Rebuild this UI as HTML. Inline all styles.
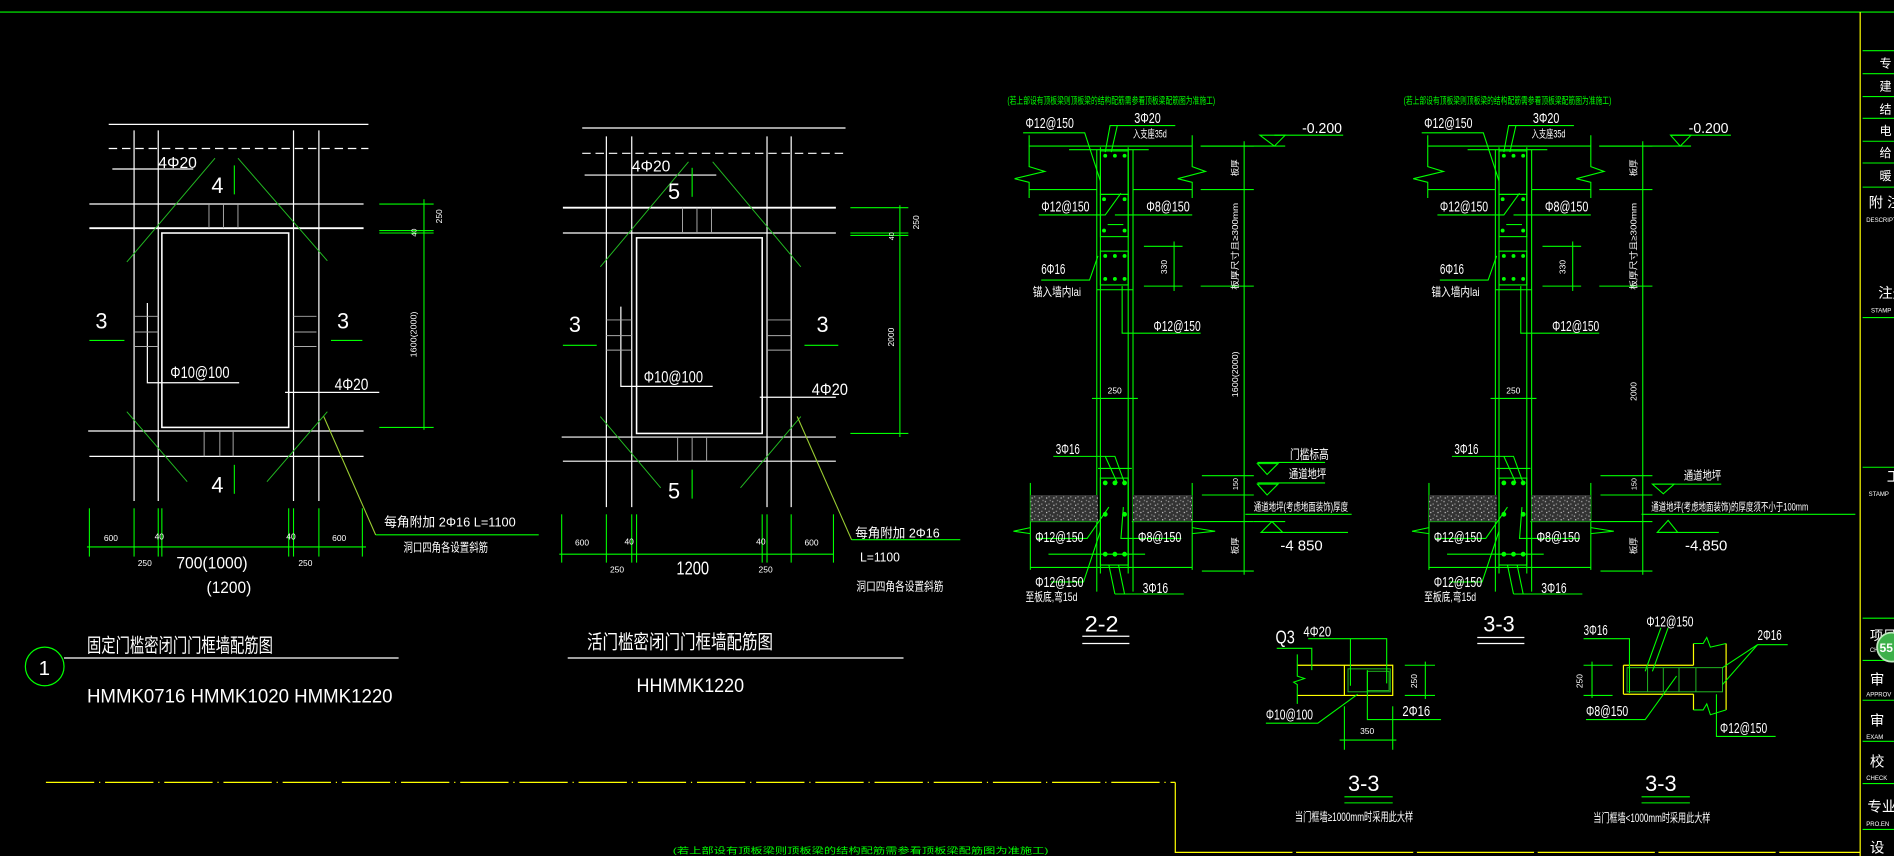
<!DOCTYPE html>
<html><head><meta charset="utf-8">
<style>
html,body{margin:0;padding:0;background:#000;width:1894px;height:856px;overflow:hidden}
svg{display:block}
text{font-family:"Liberation Sans","Noto Sans CJK SC",sans-serif;fill:#fff}
.g{stroke:#00ff00;fill:none;stroke-width:0.9}
.w{stroke:#fff;fill:none;stroke-width:1}
.y{stroke:#ffff00;fill:none;stroke-width:1}
.gr{stroke:#aaa;fill:none;stroke-width:0.8}
.dg{stroke:#22bb22;fill:none;stroke-width:0.8}
.gt{fill:#00ff00}
</style></head><body>
<svg width="1894" height="856" viewBox="0 0 1568 709" preserveAspectRatio="none" xmlns="http://www.w3.org/2000/svg" font-size="12">
<defs>
<pattern id="hat" width="6" height="6" patternUnits="userSpaceOnUse">
<rect width="6" height="6" fill="#333"/>
<rect x="1" y="1" width="1" height="1" fill="#bbb"/><rect x="4" y="3" width="1" height="1" fill="#999"/><rect x="2" y="4" width="1" height="1" fill="#ccc"/><rect x="5" y="0" width="1" height="1" fill="#888"/>
</pattern>
</defs>
<rect width="1568" height="709" fill="#000"/>
<!-- frame -->
<line class="g" x1="0" y1="10" x2="1568" y2="10"/>
<line class="y" x1="1540" y1="10" x2="1540" y2="709"/>
<g class="g">
<line x1="1542" y1="42" x2="1568" y2="42"/><line x1="1542" y1="61" x2="1568" y2="61"/><line x1="1542" y1="80" x2="1568" y2="80"/><line x1="1542" y1="98" x2="1568" y2="98"/><line x1="1542" y1="117" x2="1568" y2="117"/><line x1="1542" y1="135" x2="1568" y2="135"/><line x1="1542" y1="155" x2="1568" y2="155"/><line x1="1542" y1="263" x2="1568" y2="263"/><line x1="1542" y1="387" x2="1568" y2="387"/><line x1="1542" y1="512" x2="1568" y2="512"/><line x1="1542" y1="547" x2="1568" y2="547"/><line x1="1542" y1="580" x2="1568" y2="580"/><line x1="1542" y1="614" x2="1568" y2="614"/><line x1="1542" y1="649" x2="1568" y2="649"/><line x1="1542" y1="687" x2="1568" y2="687"/>
</g>
<g font-size="10">
<text x="1556" y="56">专</text><text x="1556" y="75">建</text><text x="1556" y="94">结</text><text x="1556" y="112">电</text><text x="1556" y="130">给</text><text x="1556" y="149">暖</text>
<text x="1547" y="172" font-size="12">附 注</text><text x="1545" y="184" font-size="5">DESCRIPT</text>
<text x="1555" y="247" font-size="12">注册</text><text x="1549" y="259" font-size="5">STAMP</text>
<text x="1562" y="399" font-size="12">工</text><text x="1547" y="411" font-size="5">STAMP</text>
<text x="1548" y="530" font-size="11">项目</text><text x="1548" y="540" font-size="5">CHE</text>
<text x="1548" y="567" font-size="12">审</text><text x="1545" y="577" font-size="5">APPROV</text>
<text x="1548" y="601" font-size="12">审</text><text x="1545" y="612" font-size="5">EXAM</text>
<text x="1548" y="635" font-size="12">校</text><text x="1545" y="646" font-size="5">CHECK</text>
<text x="1546" y="672" font-size="12">专业负</text><text x="1545" y="684" font-size="5">PRO.EN</text>
<text x="1548" y="706" font-size="12">设</text>
</g>
<circle cx="1566" cy="536" r="12" fill="#3db04a" stroke="#bfe8c0" stroke-width="1.5"/>
<text x="1556" y="540" font-size="10" font-weight="bold">55</text>

<!-- bottom yellow lines -->
<line class="y" x1="38" y1="648" x2="973" y2="648" stroke-dasharray="40,4,1,4"/>
<polyline class="y" points="973,648 973,706 1540,706"/>
<line x1="975" y1="706" x2="1540" y2="706" stroke="#000" stroke-width="1.2" stroke-dasharray="0,95,3,2"/>
<text class="gt" x="557" y="707" font-size="7" textLength="311" lengthAdjust="spacingAndGlyphs">(若上部设有顶板梁则顶板梁的结构配筋需参看顶板梁配筋图为准施工)</text>

<!-- ========== Diagram 1 ========== -->
<g>
<line class="w" x1="90" y1="103" x2="305" y2="103"/>
<line class="w" x1="90" y1="123" x2="305" y2="123" stroke-dasharray="7,4"/>
<line class="w" x1="93" y1="140" x2="160" y2="140"/>
<g class="w">
<line x1="111" y1="108" x2="111" y2="415"/><line x1="131" y1="108" x2="131" y2="415"/>
<line x1="243" y1="108" x2="243" y2="415"/><line x1="264" y1="108" x2="264" y2="415"/>
<line x1="74" y1="169" x2="301" y2="169"/><line x1="74" y1="189" x2="301" y2="189" stroke-width="1.5"/>
<line x1="73" y1="357" x2="301" y2="357"/><line x1="74" y1="378" x2="301" y2="378"/>
<rect x="134" y="193" width="105" height="161" stroke-width="1.3"/>
<polyline points="122,251 122,317 198,317"/>
<line x1="236" y1="325" x2="314" y2="325"/>
</g>
<g class="gr">
<line x1="173" y1="169" x2="173" y2="189"/><line x1="185" y1="169" x2="185" y2="189"/><line x1="197" y1="169" x2="197" y2="189"/>
<line x1="169" y1="357" x2="169" y2="378"/><line x1="182" y1="357" x2="182" y2="378"/><line x1="193" y1="357" x2="193" y2="378"/>
<line x1="111" y1="262" x2="131" y2="262"/><line x1="111" y1="275" x2="131" y2="275"/><line x1="111" y1="287" x2="131" y2="287"/>
<line x1="243" y1="262" x2="262" y2="262"/><line x1="243" y1="275" x2="262" y2="275"/><line x1="243" y1="287" x2="262" y2="287"/>
</g>
<g class="dg">
<line x1="178" y1="131" x2="105" y2="217"/><line x1="197" y1="131" x2="271" y2="216"/>
<line x1="105" y1="341" x2="155" y2="399"/><line x1="271" y1="341" x2="221" y2="399"/>
</g>
<g class="g">
<line x1="194" y1="137" x2="194" y2="161"/><line x1="194" y1="385" x2="194" y2="409"/>
<line x1="74" y1="282" x2="103" y2="282"/><line x1="274" y1="282" x2="300" y2="282"/>
<line x1="351" y1="165" x2="351" y2="356"/>
<line x1="314" y1="169" x2="359" y2="169"/><line x1="314" y1="191" x2="359" y2="191"/><line x1="314" y1="193" x2="359" y2="193"/><line x1="314" y1="354" x2="359" y2="354"/>
<line x1="72" y1="453" x2="303" y2="453"/>
<line x1="74" y1="421" x2="74" y2="461"/><line x1="111" y1="421" x2="111" y2="461"/><line x1="131" y1="421" x2="131" y2="461"/><line x1="134" y1="421" x2="134" y2="461"/><line x1="239" y1="421" x2="239" y2="461"/><line x1="243" y1="421" x2="243" y2="461"/><line x1="264" y1="421" x2="264" y2="461"/><line x1="300" y1="421" x2="300" y2="461"/>
<line x1="311" y1="443" x2="446" y2="443"/>
</g>
<polyline points="268,345 311,443" stroke="#9acd32" fill="none" stroke-width="0.9"/>
<text x="131" y="139" font-size="13" textLength="32" lengthAdjust="spacingAndGlyphs">4Φ20</text>
<text x="175" y="160" font-size="18">4</text>
<text x="175" y="408" font-size="18">4</text>
<text x="79" y="272" font-size="18">3</text>
<text x="279" y="272" font-size="18">3</text>
<text x="141" y="313" font-size="14" textLength="49" lengthAdjust="spacingAndGlyphs">Φ10@100</text>
<text x="277" y="323" font-size="14" textLength="28" lengthAdjust="spacingAndGlyphs">4Φ20</text>
<text font-size="7" transform="translate(366,185) rotate(-90)">250</text>
<text font-size="6" transform="translate(345,196) rotate(-90)">40</text>
<text font-size="7" transform="translate(345,296) rotate(-90)" textLength="38" lengthAdjust="spacingAndGlyphs">1600(2000)</text>
<text x="86" y="448" font-size="7">600</text><text x="128" y="447" font-size="7">40</text><text x="237" y="447" font-size="7">40</text><text x="275" y="448" font-size="7">600</text>
<text x="114" y="469" font-size="7">250</text><text x="247" y="469" font-size="7">250</text>
<text x="146" y="471" font-size="14" textLength="59" lengthAdjust="spacingAndGlyphs">700(1000)</text>
<text x="171" y="491" font-size="14" textLength="37" lengthAdjust="spacingAndGlyphs">(1200)</text>
<text x="318" y="436" font-size="11" textLength="109" lengthAdjust="spacingAndGlyphs">每角附加  2Φ16  L=1100</text>
<text x="334" y="457" font-size="10" textLength="70" lengthAdjust="spacingAndGlyphs">洞口四角各设置斜筋</text>
<circle cx="37" cy="552" r="16" fill="none" stroke="#00ff00" stroke-width="1"/>
<text x="32" y="559" font-size="17">1</text>
<line class="w" x1="53" y1="545" x2="330" y2="545"/>
<text x="72" y="540" font-size="16" textLength="154" lengthAdjust="spacingAndGlyphs">固定门槛密闭门门框墙配筋图</text>
<text x="72" y="582" font-size="16" textLength="253" lengthAdjust="spacingAndGlyphs">HMMK0716  HMMK1020  HMMK1220</text>
</g>

<!-- ========== Diagram 2 ========== -->
<g>
<line class="w" x1="482" y1="106" x2="700" y2="106"/>
<line class="w" x1="482" y1="127" x2="700" y2="127" stroke-dasharray="7,4"/>
<line class="w" x1="484" y1="145" x2="593" y2="145"/>
<g class="w">
<line x1="502" y1="113" x2="502" y2="420"/><line x1="523" y1="113" x2="523" y2="420"/>
<line x1="635" y1="113" x2="635" y2="420"/><line x1="655" y1="113" x2="655" y2="420"/>
<line x1="466" y1="172" x2="692" y2="172" stroke-width="1.5"/><line x1="466" y1="193" x2="692" y2="193"/>
<line x1="465" y1="362" x2="692" y2="362"/><line x1="466" y1="382" x2="692" y2="382"/>
<rect x="527" y="197" width="104" height="162" stroke-width="1.3"/>
<polyline points="514,254 514,320 590,320"/>
<line x1="629" y1="329" x2="692" y2="329"/>
</g>
<g class="gr">
<line x1="565" y1="172" x2="565" y2="193"/><line x1="577" y1="172" x2="577" y2="193"/><line x1="589" y1="172" x2="589" y2="193"/>
<line x1="561" y1="362" x2="561" y2="382"/><line x1="573" y1="362" x2="573" y2="382"/><line x1="585" y1="362" x2="585" y2="382"/>
<line x1="502" y1="265" x2="523" y2="265"/><line x1="502" y1="278" x2="523" y2="278"/><line x1="502" y1="290" x2="523" y2="290"/>
<line x1="635" y1="265" x2="655" y2="265"/><line x1="635" y1="278" x2="655" y2="278"/><line x1="635" y1="290" x2="655" y2="290"/>
</g>
<g class="dg">
<line x1="570" y1="134" x2="497" y2="221"/><line x1="590" y1="134" x2="663" y2="221"/>
<line x1="497" y1="345" x2="547" y2="404"/><line x1="663" y1="345" x2="613" y2="404"/>
</g>
<g class="g">
<line x1="573" y1="139" x2="573" y2="163"/><line x1="573" y1="389" x2="573" y2="413"/>
<line x1="466" y1="286" x2="494" y2="286"/><line x1="666" y1="286" x2="694" y2="286"/>
<line x1="745" y1="170" x2="745" y2="362"/>
<line x1="704" y1="172" x2="752" y2="172"/><line x1="704" y1="193" x2="752" y2="193"/><line x1="704" y1="195" x2="752" y2="195"/><line x1="704" y1="359" x2="752" y2="359"/>
<line x1="463" y1="459" x2="690" y2="459"/>
<line x1="465" y1="426" x2="465" y2="466"/><line x1="502" y1="426" x2="502" y2="466"/><line x1="523" y1="426" x2="523" y2="466"/><line x1="527" y1="426" x2="527" y2="466"/><line x1="631" y1="426" x2="631" y2="466"/><line x1="635" y1="426" x2="635" y2="466"/><line x1="655" y1="426" x2="655" y2="466"/><line x1="690" y1="426" x2="690" y2="466"/>
<line x1="705" y1="447" x2="795" y2="447"/>
</g>
<polyline points="660,345 705,447" stroke="#9acd32" fill="none" stroke-width="0.9"/>
<text x="523" y="142" font-size="13" textLength="32" lengthAdjust="spacingAndGlyphs">4Φ20</text>
<text x="553" y="165" font-size="18">5</text>
<text x="553" y="413" font-size="18">5</text>
<text x="471" y="275" font-size="18">3</text>
<text x="676" y="275" font-size="18">3</text>
<text x="533" y="317" font-size="14" textLength="49" lengthAdjust="spacingAndGlyphs">Φ10@100</text>
<text x="672" y="327" font-size="14" textLength="30" lengthAdjust="spacingAndGlyphs">4Φ20</text>
<text font-size="7" transform="translate(761,190) rotate(-90)">250</text>
<text font-size="6" transform="translate(740,199) rotate(-90)">40</text>
<text font-size="7" transform="translate(740,287) rotate(-90)">2000</text>
<text x="476" y="452" font-size="7">600</text><text x="517" y="451" font-size="7">40</text><text x="626" y="451" font-size="7">40</text><text x="666" y="452" font-size="7">600</text>
<text x="505" y="474" font-size="7">250</text><text x="628" y="474" font-size="7">250</text>
<text x="560" y="476" font-size="15" textLength="27" lengthAdjust="spacingAndGlyphs">1200</text>
<text x="708" y="445" font-size="11" textLength="70" lengthAdjust="spacingAndGlyphs">每角附加  2Φ16</text>
<text x="712" y="465" font-size="11" textLength="33" lengthAdjust="spacingAndGlyphs">L=1100</text>
<text x="709" y="489" font-size="10" textLength="72" lengthAdjust="spacingAndGlyphs">洞口四角各设置斜筋</text>
<line class="w" x1="470" y1="545" x2="748" y2="545"/>
<text x="486" y="537" font-size="16" textLength="154" lengthAdjust="spacingAndGlyphs">活门槛密闭门门框墙配筋图</text>
<text x="527" y="573" font-size="16" textLength="89" lengthAdjust="spacingAndGlyphs">HHMMK1220</text>
</g>

<!-- ========== Section structure (2-2), reused for 3-3 ========== -->
<g id="sec">
<g class="g">
<line x1="852" y1="121" x2="987" y2="121"/>
<line x1="852" y1="157" x2="908" y2="157"/><line x1="938" y1="157" x2="987" y2="157"/>
<polyline points="852,112 852,138 865,142 840,148 852,151 852,164"/>
<polyline points="987,112 987,138 998,142 975,148 987,151 987,164"/>
<line x1="885" y1="124" x2="951" y2="124"/>
<line x1="908" y1="124" x2="908" y2="490"/><line x1="938" y1="124" x2="938" y2="490"/>
<line x1="911" y1="122" x2="911" y2="475"/><line x1="934" y1="122" x2="934" y2="475"/>
<rect x="911" y="125" width="23" height="36"/>
<rect x="911" y="161" width="23" height="35"/>
<rect x="911" y="208" width="23" height="28"/>
<line x1="908" y1="240" x2="938" y2="240"/>
<polyline points="847,110 898,110 911,150"/>
<polyline points="973,104 919,104 915,126"/><line x1="925" y1="104" x2="920" y2="126"/>
<polyline points="860,178 915,178 928,160"/>
<polyline points="987,178 923,178"/>
<line x1="917" y1="186" x2="930" y2="186"/>
<polyline points="862,232 902,232 909,212"/>
<polyline points="929,237 929,276 994,276"/>
<line x1="947" y1="204" x2="979" y2="204"/><line x1="947" y1="237" x2="979" y2="237"/><line x1="972" y1="200" x2="972" y2="241"/>
<line x1="904" y1="330" x2="942" y2="330"/>
<polyline points="872,378 923,378 931,400"/><line x1="915" y1="378" x2="925" y2="400"/>
<rect x="911" y="396" width="23" height="72"/>
<line x1="909" y1="388" x2="937" y2="388"/>
<line x1="853" y1="400" x2="853" y2="472"/><line x1="987" y1="400" x2="987" y2="472"/>
<line x1="853" y1="470" x2="987" y2="470"/>
<polyline points="853,437 839,440 853,442"/><polyline points="987,437 1006,440 987,442"/>
<line x1="853" y1="432" x2="909" y2="432"/><line x1="937" y1="432" x2="987" y2="432"/>
<polyline points="858,446 900,446 918,420"/><polyline points="978,446 928,446 930,420"/>
<polyline points="870,482 897,482 911,440"/>
<polyline points="923,492 980,492"/><line x1="923" y1="492" x2="918" y2="468"/><line x1="931" y1="492" x2="926" y2="468"/>
<line x1="868" y1="459" x2="948" y2="459"/>
</g>
<rect x="853" y="410" width="56" height="22" fill="url(#hat)"/>
<rect x="938" y="410" width="49" height="22" fill="url(#hat)"/>
<g fill="#00ff00">
<circle cx="915" cy="129" r="1.6"/><circle cx="923" cy="129" r="1.6"/><circle cx="931" cy="129" r="1.6"/>
<circle cx="914" cy="165" r="1.6"/><circle cx="931" cy="165" r="1.6"/>
<circle cx="914" cy="191" r="1.6"/><circle cx="931" cy="191" r="1.6"/>
<circle cx="915" cy="212" r="1.6"/><circle cx="923" cy="212" r="1.6"/><circle cx="931" cy="212" r="1.6"/>
<circle cx="915" cy="231" r="1.6"/><circle cx="923" cy="231" r="1.6"/><circle cx="931" cy="231" r="1.6"/>
<circle cx="915" cy="400" r="2"/><circle cx="923" cy="400" r="2"/><circle cx="931" cy="400" r="2"/>
<circle cx="915" cy="426" r="2"/><circle cx="931" cy="426" r="2"/>
<circle cx="915" cy="459" r="2"/><circle cx="923" cy="459" r="2"/><circle cx="931" cy="459" r="2"/>
</g>
<text x="849" y="106" font-size="12" textLength="40" lengthAdjust="spacingAndGlyphs">Φ12@150</text>
<text x="939" y="102" font-size="12" textLength="22" lengthAdjust="spacingAndGlyphs">3Φ20</text>
<text x="938" y="114" font-size="9" textLength="28" lengthAdjust="spacingAndGlyphs">入支座35d</text>
<text x="862" y="175" font-size="12" textLength="40" lengthAdjust="spacingAndGlyphs">Φ12@150</text>
<text x="949" y="175" font-size="12" textLength="36" lengthAdjust="spacingAndGlyphs">Φ8@150</text>
<text font-size="7" transform="translate(966,227) rotate(-90)">330</text>
<text x="862" y="227" font-size="12" textLength="20" lengthAdjust="spacingAndGlyphs">6Φ16</text>
<text x="855" y="245" font-size="10" textLength="40" lengthAdjust="spacingAndGlyphs">锚入墙内lai</text>
<text x="955" y="274" font-size="12" textLength="39" lengthAdjust="spacingAndGlyphs">Φ12@150</text>
<text x="917" y="326" font-size="7">250</text>
<text x="874" y="376" font-size="12" textLength="20" lengthAdjust="spacingAndGlyphs">3Φ16</text>
<text x="857" y="449" font-size="12" textLength="40" lengthAdjust="spacingAndGlyphs">Φ12@150</text>
<text x="942" y="449" font-size="12" textLength="36" lengthAdjust="spacingAndGlyphs">Φ8@150</text>
<text x="857" y="486" font-size="12" textLength="40" lengthAdjust="spacingAndGlyphs">Φ12@150</text>
<text x="849" y="498" font-size="10" textLength="43" lengthAdjust="spacingAndGlyphs">至板底,弯15d</text>
<text x="946" y="491" font-size="12" textLength="21" lengthAdjust="spacingAndGlyphs">3Φ16</text>
<g class="g">
<line x1="1030" y1="117" x2="1030" y2="476"/>
<line x1="994" y1="121" x2="1038" y2="121"/>
<line x1="994" y1="157" x2="1038" y2="157"/>
<line x1="994" y1="237" x2="1038" y2="237"/>
<line x1="995" y1="394" x2="1038" y2="394"/>
<line x1="995" y1="410" x2="1038" y2="410"/>
<line x1="987" y1="432" x2="1038" y2="432"/>
<line x1="995" y1="473" x2="1038" y2="473"/>
</g>
<text font-size="7" transform="translate(1025,146) rotate(-90)" textLength="14" lengthAdjust="spacingAndGlyphs">板厚</text>
<text font-size="7" transform="translate(1025,240) rotate(-90)" textLength="72" lengthAdjust="spacingAndGlyphs">板厚尺寸且≥300mm</text>
<text font-size="7" transform="translate(1025,459) rotate(-90)" textLength="14" lengthAdjust="spacingAndGlyphs">板厚</text>
<text font-size="6" transform="translate(1025,406) rotate(-90)">150</text>
</g>
<use href="#sec" transform="translate(330,0)"/>

<!-- 2-2 specific annotations -->
<text class="gt" x="834" y="86" font-size="8" textLength="172" lengthAdjust="spacingAndGlyphs">(若上部设有顶板梁则顶板梁的结构配筋需参看顶板梁配筋图为准施工)</text>
<g class="g">
<line x1="994" y1="121" x2="1064" y2="121"/>
<polygon points="1043,112 1064,112 1055,121"/>
<line x1="1055" y1="112" x2="1112" y2="112"/>
<line x1="1041" y1="383" x2="1097" y2="383"/><polygon points="1041,384 1058,384 1049,393"/>
<line x1="1041" y1="400" x2="1097" y2="400"/><polygon points="1041,401 1058,401 1049,410"/>
<line x1="1031" y1="426" x2="1119" y2="426"/>
<line x1="1038" y1="432" x2="1064" y2="432"/>
<polygon points="1044,441 1062,441 1053,432"/><line x1="1044" y1="441" x2="1116" y2="441"/>
</g>
<text x="1078" y="110" font-size="12" textLength="33" lengthAdjust="spacingAndGlyphs">-0.200</text>
<text font-size="7" transform="translate(1025,329) rotate(-90)" textLength="38" lengthAdjust="spacingAndGlyphs">1600(2000)</text>
<text x="1068" y="380" font-size="11" textLength="32" lengthAdjust="spacingAndGlyphs">门槛标高</text>
<text x="1067" y="396" font-size="10" textLength="31" lengthAdjust="spacingAndGlyphs">通道地坪</text>
<text x="1038" y="423" font-size="9" textLength="78" lengthAdjust="spacingAndGlyphs">通道地坪(考虑地面装饰)厚度</text>
<text x="1060" y="456" font-size="12" textLength="35" lengthAdjust="spacingAndGlyphs">-4 850</text>
<text x="898" y="523" font-size="18" textLength="28" lengthAdjust="spacingAndGlyphs">2-2</text>
<line class="w" x1="896" y1="527" x2="935" y2="527"/><line class="w" x1="896" y1="533" x2="935" y2="533"/>

<!-- 3-3 specific annotations -->
<text class="gt" x="1162" y="86" font-size="8" textLength="172" lengthAdjust="spacingAndGlyphs">(若上部设有顶板梁则顶板梁的结构配筋需参看顶板梁配筋图为准施工)</text>
<g class="g">
<line x1="1324" y1="121" x2="1400" y2="121"/>
<polygon points="1383,112 1400,112 1391,121"/>
<line x1="1383" y1="112" x2="1433" y2="112"/>
<line x1="1368" y1="401" x2="1425" y2="401"/><polygon points="1368,401 1386,401 1377,409"/>
<line x1="1359" y1="426" x2="1536" y2="426"/>
<polygon points="1372,441 1389,441 1381,431"/><line x1="1372" y1="441" x2="1423" y2="441"/>
</g>
<text x="1398" y="110" font-size="12" textLength="33" lengthAdjust="spacingAndGlyphs">-0.200</text>
<text font-size="7" transform="translate(1355,332) rotate(-90)">2000</text>
<text x="1394" y="397" font-size="10" textLength="31" lengthAdjust="spacingAndGlyphs">通道地坪</text>
<text x="1367" y="423" font-size="9" textLength="130" lengthAdjust="spacingAndGlyphs">通道地坪(考虑地面装饰)的厚度须不小于100mm</text>
<text x="1395" y="456" font-size="12" textLength="35" lengthAdjust="spacingAndGlyphs">-4.850</text>
<text x="1228" y="523" font-size="18" textLength="26" lengthAdjust="spacingAndGlyphs">3-3</text>
<line class="w" x1="1223" y1="528" x2="1262" y2="528"/><line class="w" x1="1223" y1="533" x2="1262" y2="533"/>

<!-- Q3 detail -->
<g>
<polyline class="y" points="1074,551 1153,551 1153,576 1074,576"/>
<line class="y" x1="1113" y1="551" x2="1113" y2="576"/>
<polyline class="g" points="1074,542 1074,560 1080,562 1071,565 1074,567 1074,583"/>
<rect class="dg" x="1116" y="554" width="35" height="19"/>
<rect class="dg" x="1132" y="556" width="18" height="16"/>
<g class="g">
<polyline points="1083,529 1148,529 1148,566"/><line x1="1118" y1="529" x2="1118" y2="568"/>
<polyline points="1057,537 1086,537 1086,555"/>
<polyline points="1048,599 1091,599 1124,575"/>
<polyline points="1132,555 1132,596 1193,596"/>
<line x1="1180" y1="548" x2="1180" y2="579"/><line x1="1163" y1="551" x2="1188" y2="551"/><line x1="1163" y1="576" x2="1188" y2="576"/>
<line x1="1109" y1="613" x2="1156" y2="613"/><line x1="1113" y1="585" x2="1113" y2="621"/><line x1="1153" y1="585" x2="1153" y2="621"/>
</g>
<text x="1056" y="533" font-size="15" textLength="16" lengthAdjust="spacingAndGlyphs">Q3</text>
<text x="1079" y="527" font-size="12" textLength="23" lengthAdjust="spacingAndGlyphs">4Φ20</text>
<text x="1048" y="596" font-size="12" textLength="39" lengthAdjust="spacingAndGlyphs">Φ10@100</text>
<text x="1161" y="593" font-size="12" textLength="23" lengthAdjust="spacingAndGlyphs">2Φ16</text>
<text font-size="7" transform="translate(1173,570) rotate(-90)">250</text>
<text x="1126" y="608" font-size="7">350</text>
<text x="1116" y="655" font-size="18" textLength="26" lengthAdjust="spacingAndGlyphs">3-3</text>
<line class="g" x1="1113" y1="660" x2="1153" y2="660"/><line class="g" x1="1113" y1="665" x2="1153" y2="665"/>
<text x="1072" y="680" font-size="10" textLength="98" lengthAdjust="spacingAndGlyphs">当门框墙≥1000mm时采用此大样</text>
</g>

<!-- right detail -->
<g>
<polyline class="y" points="1344,551 1402,551"/><polyline class="y" points="1344,575 1402,575"/>
<line class="y" x1="1344" y1="551" x2="1344" y2="575"/>
<line class="y" x1="1402" y1="533" x2="1402" y2="551"/><line class="y" x1="1402" y1="575" x2="1402" y2="588"/>
<line class="y" x1="1429" y1="533" x2="1429" y2="588"/>
<polyline class="g" points="1402,533 1410,533 1413,528 1416,536 1429,533"/>
<polyline class="g" points="1402,588 1410,588 1413,583 1416,592 1429,588"/>
<rect class="dg" x="1347" y="553" width="79" height="20"/>
<g class="dg"><line x1="1364" y1="553" x2="1364" y2="573"/><line x1="1377" y1="553" x2="1377" y2="573"/><line x1="1390" y1="553" x2="1390" y2="573"/><line x1="1404" y1="553" x2="1404" y2="573"/></g>
<g class="g">
<polyline points="1311,529 1349,529 1349,574"/>
<line x1="1318" y1="548" x2="1318" y2="578"/><line x1="1311" y1="551" x2="1335" y2="551"/><line x1="1311" y1="576" x2="1335" y2="576"/>
<polyline points="1313,596 1362,596 1388,560"/>
<line x1="1375" y1="520" x2="1362" y2="556"/><line x1="1381" y1="520" x2="1368" y2="556"/>
<polyline points="1480,534 1455,534 1426,553"/><line x1="1455" y1="534" x2="1426" y2="567"/>
<polyline points="1421,575 1421,610 1470,610"/>
</g>
<text x="1311" y="526" font-size="12" textLength="20" lengthAdjust="spacingAndGlyphs">3Φ16</text>
<text x="1363" y="519" font-size="12" textLength="39" lengthAdjust="spacingAndGlyphs">Φ12@150</text>
<text x="1455" y="530" font-size="12" textLength="20" lengthAdjust="spacingAndGlyphs">2Φ16</text>
<text font-size="7" transform="translate(1310,570) rotate(-90)">250</text>
<text x="1313" y="593" font-size="12" textLength="35" lengthAdjust="spacingAndGlyphs">Φ8@150</text>
<text x="1424" y="607" font-size="12" textLength="39" lengthAdjust="spacingAndGlyphs">Φ12@150</text>
<text x="1362" y="655" font-size="18" textLength="26" lengthAdjust="spacingAndGlyphs">3-3</text>
<line class="g" x1="1359" y1="660" x2="1399" y2="660"/><line class="g" x1="1359" y1="665" x2="1399" y2="665"/>
<text x="1319" y="681" font-size="10" textLength="97" lengthAdjust="spacingAndGlyphs">当门框墙&lt;1000mm时采用此大样</text>
</g>
</svg>
</body></html>
